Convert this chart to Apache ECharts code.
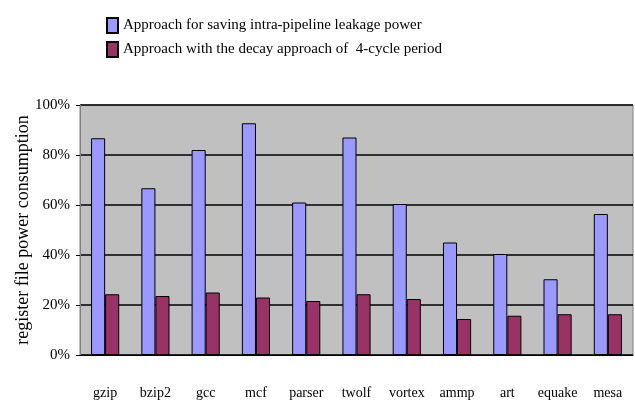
<!DOCTYPE html>
<html>
<head>
<meta charset="utf-8">
<script src="https://cdn.jsdelivr.net/npm/echarts@6/dist/echarts.min.js"></script>
<style>
  html, body { margin: 0; padding: 0; background: #fff; }
  #chart { width: 635px; height: 400px; }
</style>
</head>
<body>
<div id="chart"></div>
<script>
const benchmarks = ['gzip', 'bzip2', 'gcc', 'mcf', 'parser', 'twolf', 'vortex', 'ammp', 'art', 'equake', 'mesa']
const intraPipeline = [86.7, 66.7, 82, 92.7, 61, 87, 60.4, 45, 40.4, 30.3, 56.4]
const decay4Cycle = [24.3, 23.6, 25, 23, 21.6, 24.3, 22.4, 14.4, 15.7, 16.3, 16.3]
const seriesNames = [
  'Approach for saving intra-pipeline leakage power',
  'Approach with the decay approach of  4-cycle period'
]

const font = 'Liberation Serif'
const chart = echarts.init(document.getElementById('chart'))

chart.setOption({
  animation: false,
  textStyle: { fontFamily: font, color: '#000' },
  legend: {
    orient: 'vertical',
    left: 101,
    top: 12,
    itemWidth: 11,
    itemHeight: 15,
    itemGap: 7,
    textStyle: { fontFamily: font, fontSize: 15, color: '#000' },
    data: seriesNames.map(name => ({ name, icon: 'rect' }))
  },
  grid: {
    left: 80,
    right: 2,
    top: 105,
    bottom: 45,
    show: true,
    backgroundColor: '#c0c0c0',
    borderColor: '#808080',
    borderWidth: 1
  },
  xAxis: {
    type: 'category',
    data: benchmarks,
    axisLine: { lineStyle: { color: '#000', width: 1 } },
    axisTick: { inside: true, length: 5, lineStyle: { color: '#000' } },
    axisLabel: { interval: 0, fontFamily: font, fontSize: 14, color: '#000', margin: 31 }
  },
  yAxis: {
    type: 'value',
    min: 0,
    max: 100,
    interval: 20,
    name: 'register file power consumption',
    nameLocation: 'middle',
    nameGap: 48,
    nameMoveOverlap: false,
    nameTextStyle: { fontFamily: font, fontSize: 18, color: '#000' },
    axisLine: { show: true, lineStyle: { color: '#808080' } },
    axisTick: { show: true, length: 4, lineStyle: { color: '#000' } },
    axisLabel: { formatter: '{value}%', fontFamily: font, fontSize: 15, color: '#000', margin: 10 },
    splitLine: { lineStyle: { color: '#000', width: 1.5 } }
  },
  series: [
    {
      name: seriesNames[0],
      type: 'bar',
      data: intraPipeline,
      barGap: '0%',
      barCategoryGap: '44%',
      itemStyle: { color: '#9999ff', borderColor: '#000', borderWidth: 1 }
    },
    {
      name: seriesNames[1],
      type: 'bar',
      data: decay4Cycle,
      itemStyle: { color: '#993366', borderColor: '#000', borderWidth: 1 }
    }
  ]
})
</script>
</body>
</html>
